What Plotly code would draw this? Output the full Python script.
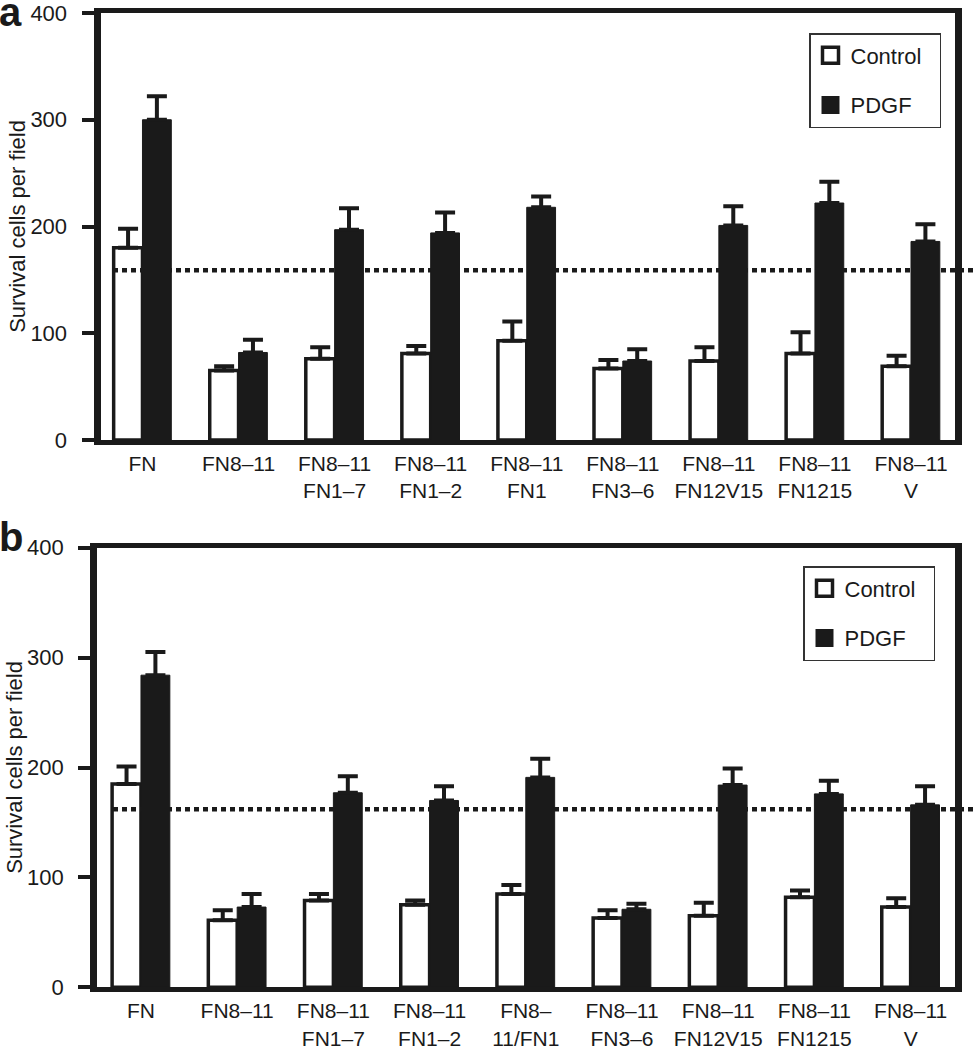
import plotly.graph_objects as go

# ---------------- data ----------------
categories_a = ["FN", "FN8–11", "FN8–11<br>FN1–7", "FN8–11<br>FN1–2", "FN8–11<br>FN1",
                "FN8–11<br>FN3–6", "FN8–11<br>FN12V15", "FN8–11<br>FN1215", "FN8–11<br>V"]
categories_b = ["FN", "FN8–11", "FN8–11<br>FN1–7", "FN8–11<br>FN1–2", "FN8–<br>11/FN1",
                "FN8–11<br>FN3–6", "FN8–11<br>FN12V15", "FN8–11<br>FN1215", "FN8–11<br>V"]

control_a = [180, 65, 76, 81, 93, 67, 74, 81, 69]
control_a_err = [18, 4, 11, 7, 18, 8, 13, 20, 10]
pdgf_a = [300, 82, 197, 194, 218, 74, 201, 222, 186]
pdgf_a_err = [22, 12, 20, 19, 10, 11, 18, 20, 16]

control_b = [185, 61, 79, 75, 85, 63, 65, 82, 73]
control_b_err = [16, 9, 6, 4, 8, 7, 12, 6, 8]
pdgf_b = [284, 73, 177, 170, 191, 71, 184, 176, 166]
pdgf_b_err = [21, 12, 15, 13, 17, 5, 15, 12, 17]

threshold_a = 159
threshold_b = 162

y_ticks = [0, 100, 200, 300, 400]
y_title = "Survival cells per field"
series_names = ["Control", "PDGF"]
panel_letters = ["a", "b"]

# ---------------- style ----------------
W, H = 973, 1050
INK = "#1a1a1a"
FONT = "Liberation Sans, Arial, Helvetica, sans-serif"
PAD = "\u00a0\u00a0"

fig = go.Figure()


def add_panel(cats, ctrl, ctrl_err, pdgf, pdgf_err, xa, ya, legend_name):
    fig.add_trace(go.Bar(
        x=cats, y=ctrl, name=series_names[0], xaxis=xa, yaxis=ya, showlegend=False,
        marker=dict(color="white", line=dict(color=INK, width=3.5)),
        error_y=dict(type="data", symmetric=False, array=ctrl_err,
                     arrayminus=[0] * len(ctrl_err), color=INK, thickness=4, width=10),
    ))
    fig.add_trace(go.Bar(
        x=cats, y=pdgf, name=series_names[1], xaxis=xa, yaxis=ya, showlegend=False,
        marker=dict(color=INK, line=dict(color=INK, width=1)),
        error_y=dict(type="data", symmetric=False, array=pdgf_err,
                     arrayminus=[0] * len(pdgf_err), color=INK, thickness=4, width=10),
    ))
    # legend entries (square keys)
    fig.add_trace(go.Scatter(
        x=[None], y=[None], mode="markers", name=series_names[0] + PAD, xaxis=xa, yaxis=ya,
        marker=dict(symbol="square", size=16, color="white", line=dict(color=INK, width=3.5)),
        legend=legend_name, legendgroup=legend_name + "c",
    ))
    fig.add_trace(go.Scatter(
        x=[None], y=[None], mode="markers", name=series_names[1] + PAD, xaxis=xa, yaxis=ya,
        marker=dict(symbol="square", size=16, color=INK, line=dict(color=INK, width=2)),
        legend=legend_name, legendgroup=legend_name + "p",
    ))


add_panel(categories_a, control_a, control_a_err, pdgf_a, pdgf_a_err, "x", "y", "legend")
add_panel(categories_b, control_b, control_b_err, pdgf_b, pdgf_b_err, "x2", "y2", "legend2")


def px_x(p):
    return p / W


def px_y(p):
    return 1 - p / H


xaxis_common = dict(
    type="category",
    showline=True, linewidth=4.5, linecolor=INK, mirror=True,
    showgrid=False, zeroline=False, ticks="", automargin=False,
    tickfont=dict(family=FONT, size=21, color=INK),
    ticklabelstandoff=1, ticklabeloverflow="allow",
)
yaxis_common = dict(
    range=[0, 400], tickvals=y_ticks, showline=True, linewidth=7, linecolor=INK, mirror=True,
    showgrid=False, zeroline=False, ticks="outside", ticklen=12, tickwidth=4, tickcolor=INK,
    automargin=False, ticklabelstandoff=10, ticklabeloverflow="allow",
    tickfont=dict(family=FONT, size=22, color=INK),
    title=dict(text=y_title, font=dict(family=FONT, size=22, color=INK), standoff=0),
)

legend_common = dict(
    xanchor="right", yanchor="top",
    bgcolor="white", bordercolor="#333333", borderwidth=1.5,
    font=dict(family=FONT, size=22, color=INK),
    traceorder="grouped", tracegroupgap=18, itemwidth=30,
)

fig.update_layout(
    width=W, height=H,
    margin=dict(l=0, r=0, t=0, b=0, autoexpand=False),
    paper_bgcolor="white", plot_bgcolor="white",
    barmode="group", bargap=0.4, bargroupgap=0,
    font=dict(family=FONT, color=INK),
    xaxis=dict(domain=[px_x(100.5), px_x(955)], range=[-0.437, 8.458], anchor="y", **xaxis_common),
    yaxis=dict(domain=[px_y(440), px_y(13)], anchor="x", **yaxis_common),
    xaxis2=dict(domain=[px_x(97.2), px_x(954.5)], range=[-0.455, 8.456], anchor="y2", **xaxis_common),
    yaxis2=dict(domain=[px_y(987.3), px_y(547.7)], anchor="x2", **yaxis_common),
    legend=dict(x=px_x(941), y=px_y(33), **legend_common),
    legend2=dict(x=px_x(935), y=px_y(566), **legend_common),
    showlegend=True,
)

# dotted reference lines
for thr, yref in [(threshold_a, "y"), (threshold_b, "y2")]:
    fig.add_shape(type="line", xref="paper", yref=yref, x0=px_x(113), x1=1.0,
                  y0=thr, y1=thr, line=dict(color=INK, width=4.5, dash="5px,4px"), layer="above")

# panel letters
fig.add_annotation(text="<b>" + panel_letters[0] + "</b>", xref="paper", yref="paper",
                   x=px_x(-3), y=px_y(-12), xanchor="left", yanchor="top", showarrow=False,
                   font=dict(family=FONT, size=40, color=INK))
fig.add_annotation(text="<b>" + panel_letters[1] + "</b>", xref="paper", yref="paper",
                   x=px_x(-3), y=px_y(513), xanchor="left", yanchor="top", showarrow=False,
                   font=dict(family=FONT, size=40, color=INK))

# the page body has a default 8px margin; remove it so the figure fills the window
fig.write_html("out.html", config={"displayModeBar": False},
               post_script="document.body.style.margin='0px';")
